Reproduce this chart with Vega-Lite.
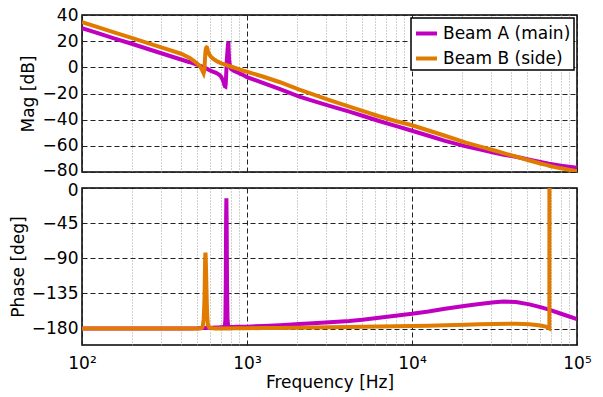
{
  "$schema": "https://vega.github.io/schema/vega-lite/v6.json",
  "background": "white",
  "padding": {"left": 8, "top": 5, "right": 5, "bottom": 3},
  "bounds": "flush",
  "spacing": 16,
  "config": {
    "font": "DejaVu Sans",
    "view": {"stroke": "black", "strokeWidth": 1.5},
    "axis": {
      "labelFont": "DejaVu Sans", "titleFont": "DejaVu Sans",
      "labelFontSize": 17, "titleFontSize": 17, "titleFontWeight": "normal",
      "labelColor": "black", "titleColor": "black",
      "domain": false, "ticks": false, "gridOpacity": 1
    },
    "legend": {
      "labelFont": "DejaVu Sans", "labelFontSize": 17, "labelColor": "black"
    }
  },
  "datasets": {
    "d": [
      {"s": "Beam A (main)", "f": 100, "m": 30.0, "p": -180},
      {"s": "Beam A (main)", "f": 126, "m": 26.0, "p": -180},
      {"s": "Beam A (main)", "f": 158, "m": 22.0, "p": -180},
      {"s": "Beam A (main)", "f": 200, "m": 18.0, "p": -180},
      {"s": "Beam A (main)", "f": 251, "m": 14.0, "p": -180},
      {"s": "Beam A (main)", "f": 316, "m": 10.0, "p": -180},
      {"s": "Beam A (main)", "f": 398, "m": 6.0, "p": -180},
      {"s": "Beam A (main)", "f": 450, "m": 3.9, "p": -179.9},
      {"s": "Beam A (main)", "f": 501, "m": 1.9, "p": -179.7},
      {"s": "Beam A (main)", "f": 540, "m": 0.4, "p": -179.3},
      {"s": "Beam A (main)", "f": 577, "m": -1.4, "p": -179.0},
      {"s": "Beam A (main)", "f": 610, "m": -2.9, "p": -178.8},
      {"s": "Beam A (main)", "f": 649, "m": -4.2, "p": -178.6},
      {"s": "Beam A (main)", "f": 680, "m": -5.7, "p": -178.4},
      {"s": "Beam A (main)", "f": 695, "m": -7.0, "p": -178.2},
      {"s": "Beam A (main)", "f": 710, "m": -9.2, "p": -178.0},
      {"s": "Beam A (main)", "f": 720, "m": -11.0, "p": -177.8},
      {"s": "Beam A (main)", "f": 728, "m": -13.2, "p": -177.4},
      {"s": "Beam A (main)", "f": 735, "m": -14.6, "p": -176.0},
      {"s": "Beam A (main)", "f": 740, "m": -14.8, "p": -168.0},
      {"s": "Beam A (main)", "f": 744, "m": -12.0, "p": -120.0},
      {"s": "Beam A (main)", "f": 747, "m": -7.0, "p": -40.0},
      {"s": "Beam A (main)", "f": 750, "m": -2.0, "p": -13.0},
      {"s": "Beam A (main)", "f": 753, "m": 3.0, "p": -45.0},
      {"s": "Beam A (main)", "f": 757, "m": 8.0, "p": -125.0},
      {"s": "Beam A (main)", "f": 762, "m": 13.0, "p": -168.0},
      {"s": "Beam A (main)", "f": 768, "m": 18.0, "p": -176.0},
      {"s": "Beam A (main)", "f": 771, "m": 19.6, "p": -177.0},
      {"s": "Beam A (main)", "f": 775, "m": 12.0, "p": -177.5},
      {"s": "Beam A (main)", "f": 780, "m": 5.0, "p": -177.8},
      {"s": "Beam A (main)", "f": 790, "m": 0.5, "p": -177.8},
      {"s": "Beam A (main)", "f": 800, "m": -1.2, "p": -177.8},
      {"s": "Beam A (main)", "f": 830, "m": -2.6, "p": -177.8},
      {"s": "Beam A (main)", "f": 860, "m": -3.4, "p": -177.7},
      {"s": "Beam A (main)", "f": 900, "m": -4.6, "p": -177.7},
      {"s": "Beam A (main)", "f": 960, "m": -6.2, "p": -177.6},
      {"s": "Beam A (main)", "f": 1000, "m": -7.5, "p": -177.5},
      {"s": "Beam A (main)", "f": 1259, "m": -12.0, "p": -176.6},
      {"s": "Beam A (main)", "f": 1585, "m": -16.7, "p": -175.6},
      {"s": "Beam A (main)", "f": 2075, "m": -22.4, "p": -174.0},
      {"s": "Beam A (main)", "f": 2512, "m": -25.6, "p": -173.0},
      {"s": "Beam A (main)", "f": 3162, "m": -29.5, "p": -171.8},
      {"s": "Beam A (main)", "f": 4170, "m": -33.9, "p": -170.3},
      {"s": "Beam A (main)", "f": 5012, "m": -37.0, "p": -168.8},
      {"s": "Beam A (main)", "f": 6310, "m": -41.0, "p": -166.2},
      {"s": "Beam A (main)", "f": 7943, "m": -44.8, "p": -163.5},
      {"s": "Beam A (main)", "f": 10000, "m": -48.5, "p": -161.0},
      {"s": "Beam A (main)", "f": 12590, "m": -52.3, "p": -158.0},
      {"s": "Beam A (main)", "f": 15850, "m": -56.2, "p": -154.5},
      {"s": "Beam A (main)", "f": 21200, "m": -60.4, "p": -150.8},
      {"s": "Beam A (main)", "f": 25600, "m": -62.6, "p": -148.5},
      {"s": "Beam A (main)", "f": 31620, "m": -65.3, "p": -146.3},
      {"s": "Beam A (main)", "f": 36000, "m": -66.8, "p": -145.4},
      {"s": "Beam A (main)", "f": 42700, "m": -68.4, "p": -146.0},
      {"s": "Beam A (main)", "f": 51500, "m": -70.6, "p": -149.0},
      {"s": "Beam A (main)", "f": 60000, "m": -72.4, "p": -152.5},
      {"s": "Beam A (main)", "f": 67700, "m": -73.7, "p": -155.6},
      {"s": "Beam A (main)", "f": 80000, "m": -75.2, "p": -161.0},
      {"s": "Beam A (main)", "f": 100000, "m": -76.8, "p": -168.0},

      {"s": "Beam B (side)", "f": 100, "m": 34.5, "p": -180},
      {"s": "Beam B (side)", "f": 126, "m": 30.5, "p": -180},
      {"s": "Beam B (side)", "f": 158, "m": 26.5, "p": -180},
      {"s": "Beam B (side)", "f": 200, "m": 22.5, "p": -180},
      {"s": "Beam B (side)", "f": 251, "m": 18.5, "p": -180},
      {"s": "Beam B (side)", "f": 316, "m": 14.5, "p": -180},
      {"s": "Beam B (side)", "f": 398, "m": 10.4, "p": -180},
      {"s": "Beam B (side)", "f": 450, "m": 7.2, "p": -180},
      {"s": "Beam B (side)", "f": 480, "m": 4.6, "p": -180},
      {"s": "Beam B (side)", "f": 500, "m": 2.8, "p": -180},
      {"s": "Beam B (side)", "f": 514, "m": 1.3, "p": -179.8},
      {"s": "Beam B (side)", "f": 525, "m": -0.3, "p": -179.5},
      {"s": "Beam B (side)", "f": 535, "m": -2.2, "p": -178.5},
      {"s": "Beam B (side)", "f": 540, "m": -3.3, "p": -176.5},
      {"s": "Beam B (side)", "f": 546, "m": -4.6, "p": -168.0},
      {"s": "Beam B (side)", "f": 550, "m": -3.0, "p": -155.0},
      {"s": "Beam B (side)", "f": 553, "m": 0.5, "p": -137.0},
      {"s": "Beam B (side)", "f": 555, "m": 3.8, "p": -118.0},
      {"s": "Beam B (side)", "f": 557, "m": 7.2, "p": -97.0},
      {"s": "Beam B (side)", "f": 558, "m": 8.9, "p": -89.0},
      {"s": "Beam B (side)", "f": 559, "m": 10.5, "p": -84.5},
      {"s": "Beam B (side)", "f": 560, "m": 11.6, "p": -83.0},
      {"s": "Beam B (side)", "f": 561, "m": 12.5, "p": -84.5},
      {"s": "Beam B (side)", "f": 562, "m": 13.3, "p": -89.0},
      {"s": "Beam B (side)", "f": 564, "m": 14.3, "p": -101.0},
      {"s": "Beam B (side)", "f": 566, "m": 15.0, "p": -115.0},
      {"s": "Beam B (side)", "f": 569, "m": 15.3, "p": -137.0},
      {"s": "Beam B (side)", "f": 572, "m": 15.2, "p": -155.0},
      {"s": "Beam B (side)", "f": 576, "m": 14.0, "p": -169.0},
      {"s": "Beam B (side)", "f": 580, "m": 12.3, "p": -175.5},
      {"s": "Beam B (side)", "f": 590, "m": 10.0, "p": -178.5},
      {"s": "Beam B (side)", "f": 605, "m": 8.0, "p": -179.3},
      {"s": "Beam B (side)", "f": 620, "m": 6.9, "p": -179.6},
      {"s": "Beam B (side)", "f": 640, "m": 5.6, "p": -179.8},
      {"s": "Beam B (side)", "f": 664, "m": 4.3, "p": -179.8},
      {"s": "Beam B (side)", "f": 700, "m": 3.1, "p": -179.8},
      {"s": "Beam B (side)", "f": 730, "m": 2.3, "p": -179.8},
      {"s": "Beam B (side)", "f": 780, "m": 1.0, "p": -179.8},
      {"s": "Beam B (side)", "f": 840, "m": -0.3, "p": -179.7},
      {"s": "Beam B (side)", "f": 900, "m": -1.6, "p": -179.7},
      {"s": "Beam B (side)", "f": 960, "m": -2.8, "p": -179.6},
      {"s": "Beam B (side)", "f": 1000, "m": -3.4, "p": -179.5},
      {"s": "Beam B (side)", "f": 1259, "m": -7.2, "p": -179.3},
      {"s": "Beam B (side)", "f": 1585, "m": -11.4, "p": -179.1},
      {"s": "Beam B (side)", "f": 2075, "m": -17.0, "p": -178.9},
      {"s": "Beam B (side)", "f": 2512, "m": -20.6, "p": -178.6},
      {"s": "Beam B (side)", "f": 3162, "m": -25.0, "p": -178.3},
      {"s": "Beam B (side)", "f": 4170, "m": -30.0, "p": -178.0},
      {"s": "Beam B (side)", "f": 5012, "m": -33.3, "p": -177.7},
      {"s": "Beam B (side)", "f": 6310, "m": -37.4, "p": -177.4},
      {"s": "Beam B (side)", "f": 7943, "m": -41.0, "p": -177.1},
      {"s": "Beam B (side)", "f": 10000, "m": -44.3, "p": -176.8},
      {"s": "Beam B (side)", "f": 12590, "m": -48.3, "p": -176.3},
      {"s": "Beam B (side)", "f": 15850, "m": -52.3, "p": -175.8},
      {"s": "Beam B (side)", "f": 21200, "m": -57.6, "p": -175.1},
      {"s": "Beam B (side)", "f": 25600, "m": -60.4, "p": -174.5},
      {"s": "Beam B (side)", "f": 31620, "m": -63.6, "p": -174.0},
      {"s": "Beam B (side)", "f": 42700, "m": -68.3, "p": -173.7},
      {"s": "Beam B (side)", "f": 51500, "m": -71.2, "p": -174.5},
      {"s": "Beam B (side)", "f": 60000, "m": -73.5, "p": -176.0},
      {"s": "Beam B (side)", "f": 65000, "m": -74.6, "p": -177.5},
      {"s": "Beam B (side)", "f": 68000, "m": -75.2, "p": -179.8},
      {"s": "Beam B (side)", "f": 68100, "m": -75.3, "p": 179.8},
      {"s": "Beam B (side)", "f": 80000, "m": -77.2, "p": 178.0},
      {"s": "Beam B (side)", "f": 100000, "m": -79.4, "p": 176.0}
    ]
  },
  "vconcat": [
    {
      "width": 495,
      "height": 157,
      "data": {"name": "d"},
      "mark": {"type": "line", "strokeWidth": 4, "clip": true},
      "encoding": {
        "x": {
          "field": "f", "type": "quantitative",
          "scale": {"type": "log", "domain": [100, 100000], "nice": false},
          "axis": {
            "title": null, "labels": false,
            "values": [100,200,300,400,500,600,700,800,900,1000,2000,3000,4000,5000,6000,7000,8000,9000,10000,20000,30000,40000,50000,60000,70000,80000,90000,100000],
            "gridColor": {"condition": {"test": "abs(log(datum.value)/LN10 - round(log(datum.value)/LN10)) < 0.001", "value": "#222222"}, "value": "#a0a0a0"},
            "gridDash": {"condition": {"test": "abs(log(datum.value)/LN10 - round(log(datum.value)/LN10)) < 0.001", "value": [5, 3]}, "value": [1, 2]}
          }
        },
        "y": {
          "field": "m", "type": "quantitative",
          "scale": {"domain": [-80, 40], "nice": false},
          "axis": {
            "title": "Mag [dB]", "values": [-80, -60, -40, -20, 0, 20, 40],
            "gridColor": "#222222", "gridDash": [5, 3],
            "labelPadding": 4, "titlePadding": 5,
            "labelOffset": {"condition": {"test": "datum.value == -80", "value": -2}, "value": 0}
          }
        },
        "color": {
          "field": "s", "type": "nominal",
          "scale": {"domain": ["Beam A (main)", "Beam B (side)"], "range": ["#c000c0", "#e07b00"]},
          "legend": {
            "title": null, "orient": "top-right", "offset": 3,
            "strokeColor": "black", "fillColor": "white",
            "padding": 3, "rowPadding": 4, "cornerRadius": 0,
            "symbolType": "stroke", "symbolStrokeWidth": 4, "symbolSize": 441,
            "labelOffset": 4,
            "encode": {"legend": {"update": {"strokeWidth": {"value": 1.5}}}}
          }
        }
      }
    },
    {
      "width": 495,
      "height": 157,
      "data": {"name": "d"},
      "mark": {"type": "line", "strokeWidth": 4, "clip": true},
      "encoding": {
        "x": {
          "field": "f", "type": "quantitative",
          "scale": {"type": "log", "domain": [100, 100000], "nice": false},
          "axis": {
            "title": "Frequency [Hz]",
            "values": [100,200,300,400,500,600,700,800,900,1000,2000,3000,4000,5000,6000,7000,8000,9000,10000,20000,30000,40000,50000,60000,70000,80000,90000,100000],
            "labelExpr": "datum.value == 100 ? '10²' : datum.value == 1000 ? '10³' : datum.value == 10000 ? '10⁴' : datum.value == 100000 ? '10⁵' : ''",
            "labelOverlap": false, "labelFlush": false, "labelPadding": 10, "titlePadding": 3,
            "gridColor": {"condition": {"test": "abs(log(datum.value)/LN10 - round(log(datum.value)/LN10)) < 0.001", "value": "#222222"}, "value": "#a0a0a0"},
            "gridDash": {"condition": {"test": "abs(log(datum.value)/LN10 - round(log(datum.value)/LN10)) < 0.001", "value": [5, 3]}, "value": [1, 2]}
          }
        },
        "y": {
          "field": "p", "type": "quantitative",
          "scale": {"domain": [-201, 0], "nice": false},
          "axis": {
            "title": "Phase [deg]", "values": [-180, -135, -90, -45, 0],
            "gridColor": "#222222", "gridDash": [5, 3],
            "labelPadding": 4, "titlePadding": 4,
            "labelOffset": {"condition": {"test": "datum.value == 0", "value": 2}, "value": 0}
          }
        },
        "color": {
          "field": "s", "type": "nominal",
          "scale": {"domain": ["Beam A (main)", "Beam B (side)"], "range": ["#c000c0", "#e07b00"]},
          "legend": null
        }
      }
    }
  ],
  "resolve": {"legend": {"color": "independent"}}
}
